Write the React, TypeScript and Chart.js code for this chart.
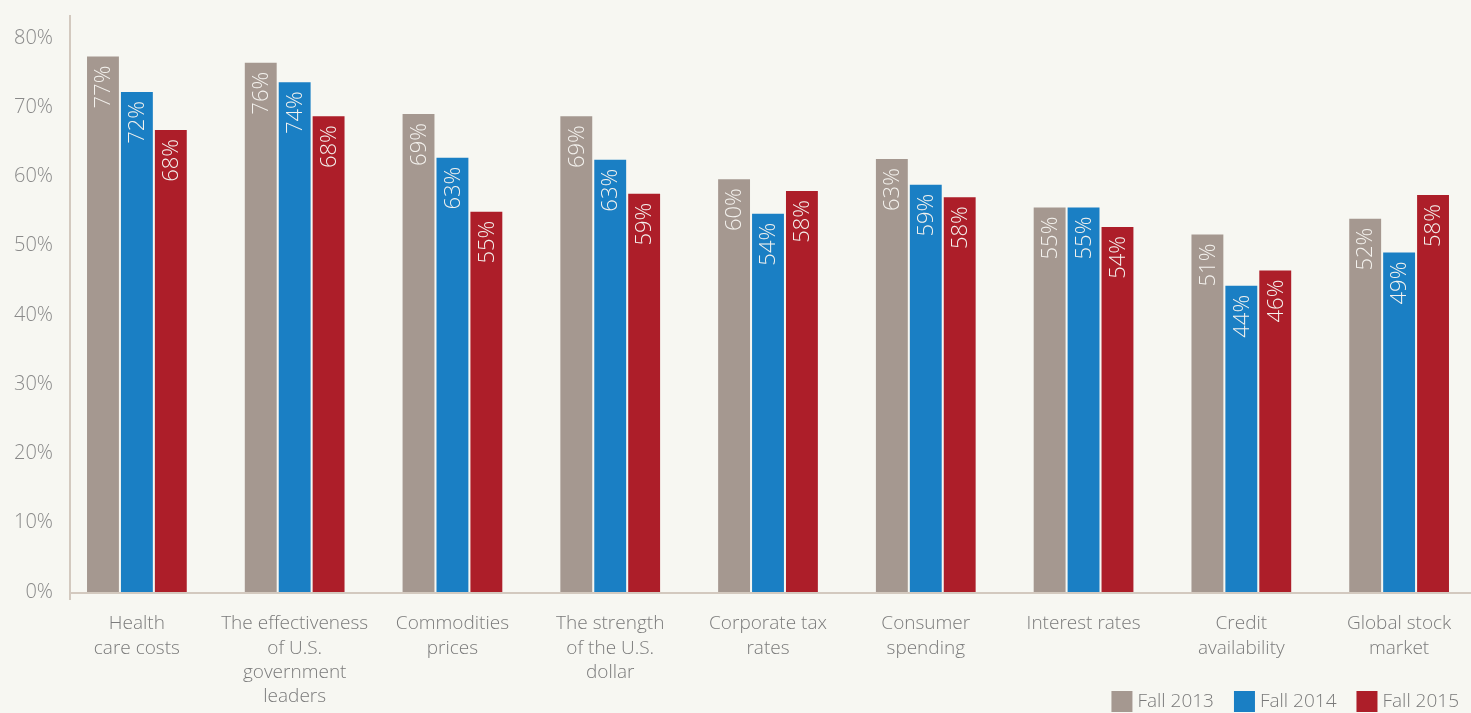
import React, { useEffect, useRef } from "react";
import { Chart, registerables } from "chart.js";

Chart.register(...registerables);

const categories: string[][] = [
  ["Health", "care costs"],
  ["The effectiveness", "of U.S.", "government", "leaders"],
  ["Commodities", "prices"],
  ["The strength", "of the U.S.", "dollar"],
  ["Corporate tax", "rates"],
  ["Consumer", "spending"],
  ["Interest rates"],
  ["Credit", "availability"],
  ["Global stock", "market"],
];

const seriesNames = ["Fall 2013", "Fall 2014", "Fall 2015"];
const seriesColors = ["#a59890", "#1a7fc4", "#ad1e29"];

// bar heights as drawn
const fall2013 = [77.3, 76.4, 69.0, 68.7, 59.6, 62.5, 55.5, 51.6, 53.9];
const fall2014 = [72.2, 73.6, 62.7, 62.4, 54.6, 58.8, 55.5, 44.2, 49.0];
const fall2015 = [66.7, 68.7, 54.9, 57.5, 57.9, 57.0, 52.7, 46.4, 57.3];

// printed labels
const labels2013 = [77, 76, 69, 69, 60, 63, 55, 51, 52];
const labels2014 = [72, 74, 63, 63, 54, 59, 55, 44, 49];
const labels2015 = [68, 68, 55, 59, 58, 58, 54, 46, 58];

const yTicks = [0, 10, 20, 30, 40, 50, 60, 70, 80];

const FONT = "'Open Sans', 'Noto Sans', sans-serif";
const W = 1478;
const H = 713;
const AXIS_X = 70;

export default function App() {
  const ref = useRef<HTMLCanvasElement | null>(null);

  useEffect(() => {
    if (!ref.current) return;
    const labelSets = [labels2013, labels2014, labels2015];

    const valueLabels = {
      id: "valueLabels",
      afterDatasetsDraw(chart: any) {
        const ctx = chart.ctx;
        chart.data.datasets.forEach((ds: any, di: number) => {
          const meta = chart.getDatasetMeta(di);
          meta.data.forEach((el: any, i: number) => {
            ctx.save();
            ctx.translate(el.x + 1, el.y + 9);
            ctx.rotate(-Math.PI / 2);
            ctx.font = `300 22px ${FONT}`;
            ctx.fillStyle = "#f4f2ee";
            ctx.textAlign = "right";
            ctx.textBaseline = "middle";
            ctx.fillText(labelSets[di][i] + "%", 0, 0);
            ctx.restore();
          });
        });
      },
    };

    const axisLines = {
      id: "axisLines",
      beforeDatasetsDraw(chart: any) {
        const ctx = chart.ctx;
        const a = chart.chartArea;
        ctx.save();
        ctx.strokeStyle = "#d3c9bf";
        ctx.lineWidth = 2;
        ctx.beginPath();
        ctx.moveTo(AXIS_X, a.top);
        ctx.lineTo(AXIS_X, a.bottom + 8);
        ctx.stroke();
        ctx.beginPath();
        ctx.moveTo(AXIS_X, a.bottom + 1);
        ctx.lineTo(a.right, a.bottom + 1);
        ctx.stroke();
        ctx.restore();
      },
    };

    const legendPlugin = {
      id: "customLegend",
      afterDraw(chart: any) {
        const ctx = chart.ctx;
        ctx.save();
        ctx.font = `300 19px ${FONT}`;
        ctx.textBaseline = "middle";
        ctx.textAlign = "left";
        const box = 21;
        const gap = 5;
        const spacing = 20;
        const widths = seriesNames.map((n) => ctx.measureText(n).width);
        let total = 0;
        widths.forEach((w, i) => {
          total += box + gap + w + (i < widths.length - 1 ? spacing : 0);
        });
        let x = 1459 - total;
        const cy = 702;
        seriesNames.forEach((n, i) => {
          ctx.fillStyle = seriesColors[i];
          ctx.fillRect(x, 691, box, box);
          ctx.fillStyle = "#7a7a7a";
          ctx.fillText(n, x + box + gap, cy);
          x += box + gap + widths[i] + spacing;
        });
        ctx.restore();
      },
    };

    const bg = {
      id: "bg",
      beforeDraw(chart: any) {
        const ctx = chart.ctx;
        ctx.save();
        ctx.fillStyle = "#f7f7f2";
        ctx.fillRect(0, 0, chart.width, chart.height);
        ctx.restore();
      },
    };

    const data = [fall2013, fall2014, fall2015];
    const chart = new Chart(ref.current, {
      type: "bar",
      data: {
        labels: categories,
        datasets: data.map((d, i) => ({
          label: seriesNames[i],
          data: d,
          backgroundColor: seriesColors[i],
          borderWidth: 0,
          categoryPercentage: 0.645,
          barPercentage: 0.94,
        })),
      },
      options: {
        responsive: false,
        animation: false,
        devicePixelRatio: 1,
        layout: { padding: { top: 15, left: 0, right: 0, bottom: 0 } },
        plugins: {
          legend: { display: false },
          tooltip: { enabled: false },
        },
        scales: {
          x: {
            grid: { display: false },
            border: { display: false },
            ticks: {
              color: "#7b7b7b",
              font: { family: FONT, size: 19, weight: "300" as any, lineHeight: 1.27 },
              padding: 12,
              maxRotation: 0,
              autoSkip: false,
            },
            afterFit: (s: any) => {
              s.height = 121;
            },
          },
          y: {
            min: 0,
            max: 83.3,
            grid: { display: false },
            border: { display: false },
            afterBuildTicks: (s: any) => {
              s.ticks = yTicks.map((v) => ({ value: v }));
            },
            ticks: {
              color: "#8a8a8a",
              font: { family: FONT, size: 20, weight: "300" as any },
              padding: -3,
              callback: (v: any) => v + "%",
            },
            afterFit: (s: any) => {
              s.width = 58;
            },
          },
        },
      },
      plugins: [bg, axisLines, valueLabels, legendPlugin],
    });
    return () => chart.destroy();
  }, []);

  return (
    <div
      style={{
        position: "absolute",
        left: 0,
        top: 0,
        width: 1471,
        height: H,
        overflow: "hidden",
        background: "#f7f7f2",
      }}
    >
      <canvas ref={ref} width={W} height={H} style={{ display: "block", width: W, height: H }} />
    </div>
  );
}
